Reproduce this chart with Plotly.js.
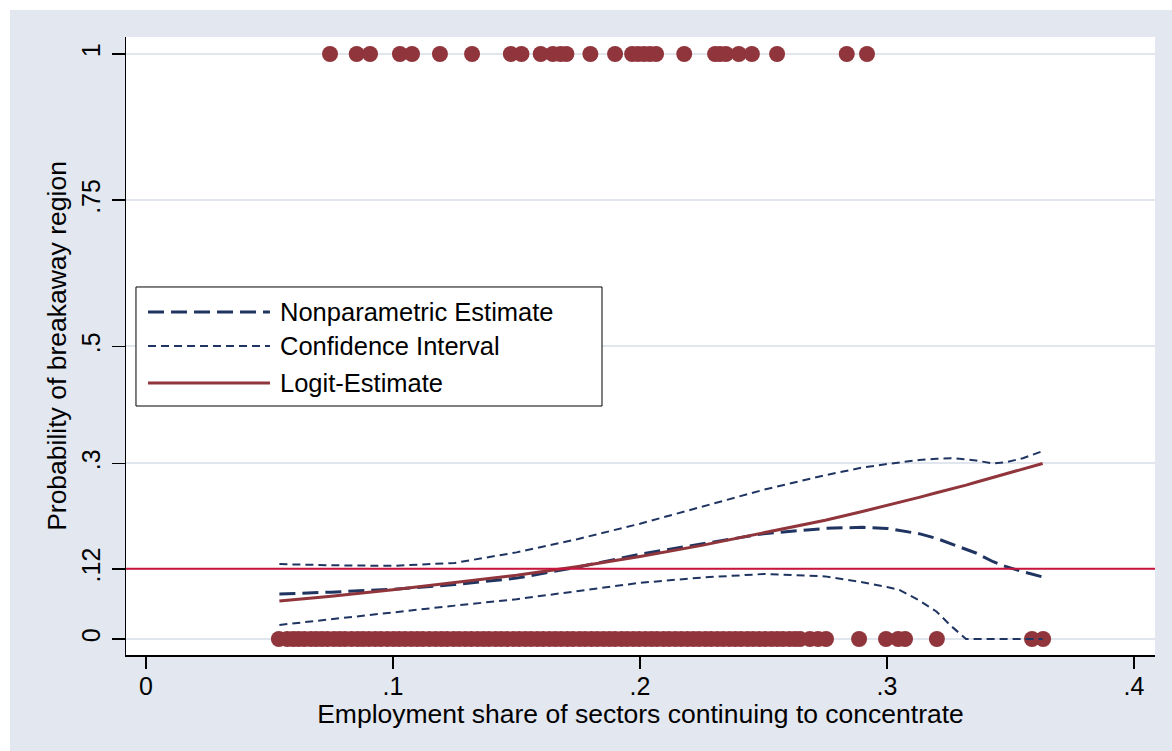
<!DOCTYPE html>
<html><head><meta charset="utf-8">
<script src="https://cdn.plot.ly/plotly-3.0.1.min.js"></script>
<style>html,body{margin:0;padding:0;background:#fff;} #chart{position:absolute;left:10px;top:10px;width:1162px;height:741px;}</style>
</head><body><div id="chart"></div><script>
// Observations with outcome = 1 (breakaway regions)
const obsX1 = [0.0745, 0.0853, 0.0907, 0.1028, 0.1077, 0.1190, 0.1320, 0.1477, 0.1520, 0.1598, 0.1647, 0.1678, 0.1702, 0.1799, 0.1899, 0.1968, 0.1992, 0.2016, 0.2040, 0.2065, 0.2179, 0.2304, 0.2324, 0.2348, 0.2400, 0.2453, 0.2555, 0.2837, 0.2919];
// Observations with outcome = 0
const obsX0 = [0.0538, 0.0572, 0.0596, 0.0618, 0.0641, 0.0667, 0.0689, 0.0712, 0.0735, 0.0761, 0.0784, 0.0806, 0.0832, 0.0857, 0.0879, 0.0903, 0.0928, 0.0951, 0.0977, 0.1002, 0.1025, 0.1049, 0.1074, 0.1098, 0.1121, 0.1147, 0.1172, 0.1196, 0.1219, 0.1245, 0.1268, 0.1293, 0.1317, 0.1342, 0.1366, 0.1389, 0.1415, 0.1438, 0.1462, 0.1487, 0.1511, 0.1536, 0.1559, 0.1584, 0.1608, 0.1633, 0.1657, 0.1681, 0.1706, 0.1729, 0.1755, 0.1778, 0.1803, 0.1827, 0.1852, 0.1876, 0.1899, 0.1925, 0.1948, 0.1973, 0.1997, 0.2022, 0.2046, 0.2069, 0.2095, 0.2118, 0.2143, 0.2167, 0.2192, 0.2216, 0.2239, 0.2265, 0.2288, 0.2313, 0.2337, 0.2362, 0.2386, 0.2409, 0.2435, 0.2458, 0.2483, 0.2507, 0.2532, 0.2556, 0.2579, 0.2605, 0.2628, 0.2648, 0.2688, 0.2721, 0.2753, 0.2887, 0.2996, 0.3045, 0.3073, 0.3202, 0.3587, 0.3632];

// Estimated curves
const curveX   = [0.054, 0.075, 0.100, 0.125, 0.150, 0.175, 0.200, 0.225, 0.250, 0.275, 0.290, 0.300, 0.305, 0.313, 0.320, 0.326, 0.332, 0.336, 0.343, 0.348, 0.355, 0.363];
const npEst    = [0.077, 0.080, 0.085, 0.093, 0.104, 0.123, 0.145, 0.163, 0.180, 0.189, 0.191, 0.189, 0.186, 0.180, 0.172, 0.163, 0.153, 0.147, 0.132, 0.124, 0.115, 0.106];
const ciUpper  = [0.128, 0.126, 0.125, 0.130, 0.148, 0.171, 0.197, 0.226, 0.255, 0.280, 0.293, 0.299, 0.302, 0.306, 0.308, 0.309, 0.307, 0.305, 0.300, 0.302, 0.309, 0.321];
const ciLower  = [0.024, 0.034, 0.046, 0.057, 0.068, 0.082, 0.096, 0.105, 0.111, 0.107, 0.097, 0.089, 0.084, 0.066, 0.047, 0.022, 0.000, 0.000, 0.000, 0.000, 0.000, 0.000];
const logitEst = [0.065, 0.073, 0.084, 0.096, 0.109, 0.124, 0.141, 0.160, 0.181, 0.203, 0.218, 0.228, 0.234, 0.242, 0.250, 0.256, 0.263, 0.268, 0.276, 0.282, 0.290, 0.300];

const refLevel = 0.12;
const xTickVals = [0, 0.1, 0.2, 0.3, 0.4];
const xTickText = ['0', '.1', '.2', '.3', '.4'];
const yTickVals = [0, 0.12, 0.3, 0.5, 0.75, 1];
const yTickText = ['0', '.12', '.3', '.5', '.75', '1'];
const legendNames = ['Nonparametric Estimate', 'Confidence Interval', 'Logit-Estimate'];

const NAVY = '#1f3461', MAROON = '#90353b', CRIMSON = '#c8143c';
const FONT = 'Liberation Sans, Arial, Helvetica, sans-serif';

const traces = [
  {x: obsX1, y: obsX1.map(() => 1), type: 'scatter', mode: 'markers', name: 'Outcome 1',
   marker: {size: 16, color: MAROON, line: {width: 0}}, hoverinfo: 'x+y'},
  {x: obsX0, y: obsX0.map(() => 0), type: 'scatter', mode: 'markers', name: 'Outcome 0',
   marker: {size: 16, color: MAROON, line: {width: 0}}, hoverinfo: 'x+y'},
  {x: curveX, y: npEst, type: 'scatter', mode: 'lines', name: legendNames[0],
   line: {color: NAVY, width: 3, dash: '16px,7px'}},
  {x: curveX, y: ciUpper, type: 'scatter', mode: 'lines', name: legendNames[1],
   line: {color: NAVY, width: 2, dash: '8px,5px'}},
  {x: curveX, y: ciLower, type: 'scatter', mode: 'lines', name: legendNames[1] + ' (lower)',
   line: {color: NAVY, width: 2, dash: '8px,5px'}},
  {x: curveX, y: logitEst, type: 'scatter', mode: 'lines', name: legendNames[2],
   line: {color: MAROON, width: 3}}
];

// custom legend (paper coordinates)
const lgX0 = 0.0097, lgX1 = 0.4626, lgY0 = 0.4029, lgY1 = 0.5955;
const sampX0 = 0.0214, sampX1 = 0.1399, textX = 0.1477;
const rowY = [0.5550, 0.5000, 0.4401];
const sampStyles = [
  {color: NAVY, width: 3, dash: '16px,7px'},
  {color: NAVY, width: 2, dash: '8px,5px'},
  {color: MAROON, width: 3, dash: 'solid'}
];
const shapes = [
  {type: 'line', xref: 'paper', x0: 0, x1: 1, yref: 'y', y0: refLevel, y1: refLevel,
   line: {color: CRIMSON, width: 2}, layer: 'above'},
  {type: 'rect', xref: 'paper', yref: 'paper', x0: lgX0, x1: lgX1, y0: lgY0, y1: lgY1,
   fillcolor: '#ffffff', line: {color: '#000', width: 1}, layer: 'above'}
];
const annotations = [];
legendNames.forEach((n, i) => {
  shapes.push({type: 'line', xref: 'paper', yref: 'paper', x0: sampX0, x1: sampX1, y0: rowY[i], y1: rowY[i],
    line: sampStyles[i], layer: 'above'});
  annotations.push({xref: 'paper', yref: 'paper', x: textX, y: rowY[i], xanchor: 'left', yanchor: 'middle',
    text: n, showarrow: false, font: {family: FONT, size: 25.5, color: '#000'}});
});

const layout = {
  width: 1162, height: 741,
  margin: {l: 116, r: 17, t: 27, b: 96},
  paper_bgcolor: '#e2e7f0', plot_bgcolor: '#ffffff',
  font: {family: FONT, color: '#000'},
  showlegend: false,
  xaxis: {
    range: [-0.0081, 0.4085], tickvals: xTickVals, ticktext: xTickText,
    ticks: 'outside', ticklen: 12, tickwidth: 1.5, tickcolor: '#000',
    showline: true, linecolor: '#000', linewidth: 1.5, showgrid: false, zeroline: false,
    tickfont: {size: 25, family: FONT}, ticklabelstandoff: -4,
    title: {text: 'Employment share of sectors continuing to concentrate', font: {size: 26.5, family: FONT}, standoff: 0}
  },
  yaxis: {
    range: [-0.0274, 1.029], tickvals: yTickVals, ticktext: yTickText, tickangle: -90,
    ticks: 'outside', ticklen: 13, tickwidth: 1.5, tickcolor: '#000',
    showline: true, linecolor: '#000', linewidth: 1.5, showgrid: true, gridcolor: '#e1e6ee', gridwidth: 2,
    zeroline: false, tickfont: {size: 25, family: FONT}, ticklabelstandoff: 2,
    title: {text: 'Probability of breakaway region', font: {size: 26.5, family: FONT}, standoff: 2}
  },
  shapes: shapes,
  annotations: annotations
};

Plotly.newPlot('chart', traces, layout, {displayModeBar: false, staticPlot: true});
</script></body></html>
